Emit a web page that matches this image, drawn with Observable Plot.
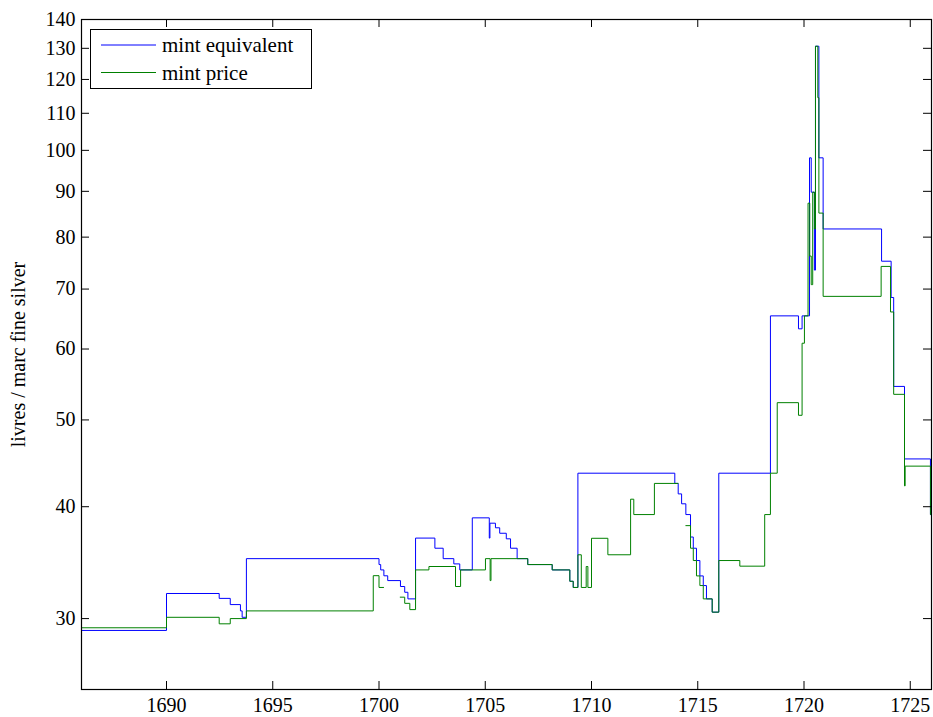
<!DOCTYPE html>
<html>
<head>
<meta charset="utf-8">
<script src="https://cdn.jsdelivr.net/npm/d3@7"></script>
<script src="https://cdn.jsdelivr.net/npm/@observablehq/plot@0.6"></script>
<style>
  html, body { margin: 0; padding: 0; background: white; }
  #wrap { position: relative; width: 933px; height: 717px; font-family: "Liberation Serif", "Times New Roman", serif; }
  #wrap svg text { font-family: "Liberation Serif", "Times New Roman", serif; }
  #legend { position: absolute; left: 90px; top: 29px; width: 220px; height: 58px; border: 1px solid black; background: white; }
</style>
</head>
<body>
<div id="wrap"></div>
<script>
// ---- data ----
const seriesNames = ["mint equivalent", "mint price"];
const seriesColors = ["#0000ff", "#008000"];

const equivYears = [1686, 1690.0, 1692.48, 1693.0, 1693.48, 1693.56, 1693.76,
  1700.0, 1700.08, 1700.23, 1700.41, 1701.01, 1701.21, 1701.36, 1701.72,
  1702.63, 1703.02, 1703.52, 1703.80, 1704.39, 1705.19, 1705.22, 1705.48,
  1705.68, 1705.99, 1706.19, 1706.50, 1707.0, 1708.15, 1708.98, 1709.14,
  1709.36, 1713.92, 1714.08, 1714.24, 1714.44, 1714.66, 1714.79, 1714.94,
  1715.10, 1715.26, 1715.41, 1715.68, 1715.99, 1718.42, 1719.74, 1719.91,
  1720.26, 1720.34, 1720.49, 1720.54, 1720.70, 1720.90, 1723.65, 1724.10,
  1724.22, 1724.73, 1725.95, 1726];
const equivValues = [29.1, 32.0, 31.6, 31.1, 30.6, 30.1, 35.0,
  34.47, 34.0, 33.49, 33.08, 32.58, 32.1, 31.56, 36.9,
  35.95, 35.0, 34.53, 34.0, 38.87, 36.9, 38.34, 37.89,
  37.36, 36.83, 35.95, 35.0, 34.47, 34.0, 33.02, 32.5,
  43.6, 42.47, 41.34, 40.3, 39.2, 37.0, 35.95, 34.83,
  33.48, 32.66, 31.56, 30.5, 43.6, 65.34, 63.2, 65.34,
  98.1, 89.8, 73.5, 130.7, 98.1, 81.7, 75.2, 68.5,
  54.5, 45.23, 39.2, 39.2];

const priceYears = [1686, 1690.0, 1692.48, 1693.0, 1693.76, 1699.73, 1700.0,
  1700.23, 1700.24, 1701.0, 1701.21, 1701.45, 1701.72, 1702.35, 1703.60,
  1703.84, 1705.01, 1705.23, 1705.27, 1707.0, 1708.15, 1708.98, 1709.14,
  1709.36, 1709.52, 1709.75, 1709.83, 1710.0, 1710.77, 1711.84, 1711.99,
  1712.96, 1714.08, 1714.09, 1714.44, 1714.66, 1714.79, 1714.94, 1715.10,
  1715.26, 1715.68, 1715.99, 1716.98, 1718.15, 1718.42, 1718.74, 1719.74,
  1719.91, 1720.02, 1720.19, 1720.27, 1720.34, 1720.41, 1720.49, 1720.54,
  1720.65, 1720.70, 1720.90, 1723.63, 1724.07, 1724.22, 1724.73, 1724.76,
  1725.95, 1726];
const priceValues = [29.3, 30.1, 29.6, 30.0, 30.6, 33.5, 32.5,
  32.5, NaN, 31.7, 31.2, 30.7, 34.0, 34.3, 32.58,
  34.0, 35.0, 33.08, 35.0, 34.47, 34.0, 33.02, 32.5,
  35.35, 32.5, 34.3, 32.5, 36.88, 35.35, 40.78, 39.2,
  42.47, 42.47, NaN, 38.1, 35.95, 34.83, 33.48, 32.66,
  31.56, 30.5, 34.83, 34.33, 39.2, 43.6, 52.27, 50.6,
  60.9, 65.34, 87.3, 76.2, 70.8, 89.8, 81.7, 130.7,
  114.5, 85.1, 68.7, 74.2, 66.0, 53.4, 42.2, 44.4,
  39.2, 39.2];

const xTicks = [1690, 1695, 1700, 1705, 1710, 1715, 1720, 1725];
const yTicks = [30, 40, 50, 60, 70, 80, 90, 100, 110, 120, 130, 140];
const yLabel = "livres / marc fine silver";

// ---- build tables ----
const equiv = equivYears.map((x, i) => ({x, y: equivValues[i]}));
const price = priceYears.map((x, i) => ({x, y: priceValues[i]}));

const W = 933, H = 717, ML = 81, MR = 2, MT = 19, MB = 28;
const PW = W - ML - MR, PH = H - MT - MB, TL = 8;
const FONT = "'Liberation Serif', 'Times New Roman', serif";

const chart = Plot.plot({
  width: W, height: H,
  marginLeft: ML, marginRight: MR, marginTop: MT, marginBottom: MB,
  style: {fontFamily: FONT, fontSize: "20px", background: "white", color: "black"},
  x: {domain: [1686, 1726]},
  y: {type: "log", domain: [25, 140]},
  marks: [
    Plot.line(equiv, {x: "x", y: "y", curve: "step-after", stroke: seriesColors[0], strokeWidth: 1}),
    Plot.line(price, {x: "x", y: "y", curve: "step-after", stroke: seriesColors[1], strokeWidth: 1}),
    Plot.frame({stroke: "black", strokeWidth: 1.2}),
    Plot.tickY(yTicks, {y: d => d, insetRight: PW - TL, stroke: "black"}),
    Plot.tickY(yTicks, {y: d => d, insetLeft: PW - TL, stroke: "black"}),
    Plot.tickX(xTicks, {x: d => d, insetTop: PH - TL, stroke: "black"}),
    Plot.tickX(xTicks, {x: d => d, insetBottom: PH - TL, stroke: "black"}),
    Plot.axisX({ticks: xTicks, tickSize: 0, tickPadding: 8, tickFormat: d => String(d), fontSize: 20, label: null}),
    Plot.axisY({ticks: yTicks, tickSize: 0, tickPadding: 6, tickFormat: d => String(d), fontSize: 20,
      label: yLabel, labelAnchor: "center", labelOffset: 71, labelArrow: "none"})
  ]
});

const wrap = document.getElementById("wrap");
wrap.appendChild(chart);

// ---- legend ----
const legend = document.createElement("div");
legend.id = "legend";
const ns = "http://www.w3.org/2000/svg";
const lsvg = document.createElementNS(ns, "svg");
lsvg.setAttribute("width", 220);
lsvg.setAttribute("height", 58);
seriesNames.forEach((name, i) => {
  const yLine = 15 + i * 27.5;
  const line = document.createElementNS(ns, "line");
  line.setAttribute("x1", 10); line.setAttribute("x2", 65);
  line.setAttribute("y1", yLine); line.setAttribute("y2", yLine);
  line.setAttribute("stroke", seriesColors[i]);
  line.setAttribute("stroke-width", 1);
  lsvg.appendChild(line);
  const t = document.createElementNS(ns, "text");
  t.setAttribute("x", 71); t.setAttribute("y", yLine + 7);
  t.setAttribute("style", "font-family:" + FONT + ";font-size:21px");
  t.textContent = name;
  lsvg.appendChild(t);
});
legend.appendChild(lsvg);
wrap.appendChild(legend);
</script>
</body>
</html>
